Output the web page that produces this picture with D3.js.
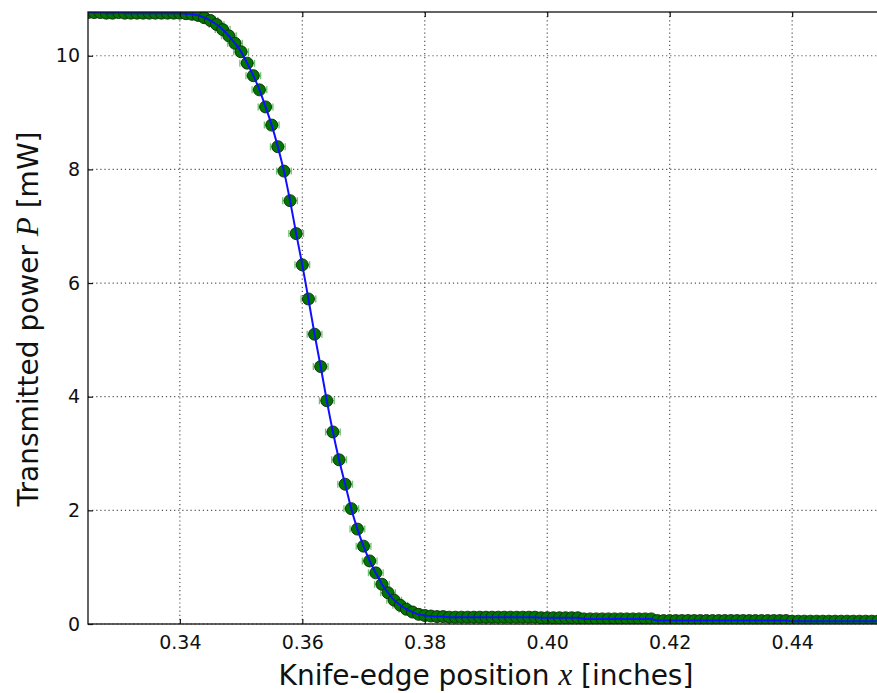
<!DOCTYPE html>
<html>
<head>
    <title>Knife-edge scan</title>
    <script src="https://d3js.org/d3.v7.min.js"></script>
    <style>
        body { margin: 0; background: #fff; }
        text { font-family: "DejaVu Sans", sans-serif; fill: #111; }
    </style>
</head>
<body>
<svg width="877" height="693"></svg>
<script>
    // knife-edge position [inches]
    const positions = [
        0.325, 0.326, 0.327, 0.328, 0.329, 0.330, 0.331, 0.332, 0.333, 0.334,
        0.335, 0.336, 0.337, 0.338, 0.339, 0.340, 0.341, 0.342, 0.343, 0.344,
        0.345, 0.346, 0.347, 0.348, 0.349, 0.350, 0.351, 0.352, 0.353, 0.354,
        0.355, 0.356, 0.357, 0.358, 0.359, 0.360, 0.361, 0.362, 0.363, 0.364,
        0.365, 0.366, 0.367, 0.368, 0.369, 0.370, 0.371, 0.372, 0.373, 0.374,
        0.375, 0.376, 0.377, 0.378, 0.379, 0.380, 0.381, 0.382, 0.383, 0.384,
        0.385, 0.386, 0.387, 0.388, 0.389, 0.390, 0.391, 0.392, 0.393, 0.394,
        0.395, 0.396, 0.397, 0.398, 0.399, 0.400, 0.401, 0.402, 0.403, 0.404,
        0.405, 0.406, 0.407, 0.408, 0.409, 0.410, 0.411, 0.412, 0.413, 0.414,
        0.415, 0.416, 0.417, 0.418, 0.419, 0.420, 0.421, 0.422, 0.423, 0.424,
        0.425, 0.426, 0.427, 0.428, 0.429, 0.430, 0.431, 0.432, 0.433, 0.434,
        0.435, 0.436, 0.437, 0.438, 0.439, 0.440, 0.441, 0.442, 0.443, 0.444,
        0.445, 0.446, 0.447, 0.448, 0.449, 0.450, 0.451, 0.452, 0.453, 0.454,
        0.455
    ];
    // transmitted power [mW]
    const power = [
        10.76, 10.76, 10.76, 10.75, 10.75, 10.76, 10.75, 10.75, 10.75, 10.75,
        10.75, 10.75, 10.75, 10.75, 10.75, 10.75, 10.74, 10.73, 10.71, 10.67,
        10.62, 10.55, 10.46, 10.35, 10.22, 10.07, 9.87, 9.65, 9.40, 9.10,
        8.78, 8.40, 7.97, 7.45, 6.87, 6.32, 5.72, 5.10, 4.53, 3.93,
        3.38, 2.89, 2.46, 2.03, 1.67, 1.37, 1.11, 0.90, 0.70, 0.55,
        0.42, 0.33, 0.26, 0.21, 0.17, 0.15, 0.14, 0.13, 0.13, 0.12,
        0.12, 0.12, 0.12, 0.12, 0.12, 0.12, 0.12, 0.12, 0.12, 0.12,
        0.12, 0.12, 0.12, 0.12, 0.11, 0.11, 0.11, 0.11, 0.11, 0.11,
        0.11, 0.09, 0.09, 0.09, 0.09, 0.09, 0.09, 0.09, 0.09, 0.09,
        0.09, 0.09, 0.09, 0.06, 0.06, 0.06, 0.06, 0.06, 0.06, 0.06,
        0.06, 0.06, 0.06, 0.06, 0.06, 0.06, 0.06, 0.06, 0.06, 0.06,
        0.06, 0.06, 0.06, 0.06, 0.06, 0.05, 0.05, 0.05, 0.05, 0.05,
        0.05, 0.05, 0.05, 0.05, 0.05, 0.05, 0.05, 0.05, 0.05, 0.05,
        0.05
    ];
    const xErr = 0.0012;
    const xTicks = [0.34, 0.36, 0.38, 0.40, 0.42, 0.44];
    const yTicks = [0, 2, 4, 6, 8, 10];
    const xDomain = [0.325, 0.455];
    const yDomain = [0, 10.77];

    const data = positions.map((p, i) => ({x: p, y: power[i]}));

    const mLeft = 88, mRight = 884, mTop = 12, mBottom = 624;
    const svg = d3.select("svg");

    const x = d3.scaleLinear().domain(xDomain).range([mLeft, mRight]);
    const y = d3.scaleLinear().domain(yDomain).range([mBottom, mTop]);

    svg.append("defs").append("clipPath").attr("id", "clip")
        .append("rect")
        .attr("x", mLeft).attr("y", mTop)
        .attr("width", mRight - mLeft).attr("height", mBottom - mTop);

    // dotted grid
    const grid = svg.append("g")
        .attr("stroke", "#555")
        .attr("stroke-width", 1.2)
        .attr("stroke-dasharray", "1.2,2.9");
    grid.selectAll(".gx").data(xTicks).enter().append("line")
        .attr("x1", d => x(d)).attr("x2", d => x(d))
        .attr("y1", mTop).attr("y2", mBottom);
    grid.selectAll(".gy").data(yTicks).enter().append("line")
        .attr("x1", mLeft).attr("x2", mRight)
        .attr("y1", d => y(d)).attr("y2", d => y(d));

    const plot = svg.append("g").attr("clip-path", "url(#clip)");

    // horizontal error bars
    const eb = plot.append("g").attr("stroke", "#6fc46f").attr("stroke-width", 1.3);
    eb.selectAll(".eb").data(data).enter().append("path")
        .attr("fill", "none")
        .attr("d", d => {
            const x0 = x(d.x - xErr), x1 = x(d.x + xErr), yy = y(d.y);
            return `M${x0},${yy}H${x1}M${x0},${yy - 3.5}V${yy + 3.5}M${x1},${yy - 3.5}V${yy + 3.5}`;
        });

    // markers
    plot.selectAll(".pt").data(data).enter().append("circle")
        .attr("cx", d => x(d.x))
        .attr("cy", d => y(d.y))
        .attr("r", 6)
        .attr("fill", "#007600")
        .attr("stroke", "#0a2a0a")
        .attr("stroke-width", 0.9);

    // line
    const line = d3.line().x(d => x(d.x)).y(d => y(d.y)).curve(d3.curveMonotoneX);
    plot.append("path")
        .datum(data)
        .attr("fill", "none")
        .attr("stroke", "#1010ff")
        .attr("stroke-width", 2)
        .attr("d", line);

    // frame
    svg.append("rect")
        .attr("x", mLeft).attr("y", mTop)
        .attr("width", mRight - mLeft).attr("height", mBottom - mTop)
        .attr("fill", "none").attr("stroke", "#111").attr("stroke-width", 1.3);

    // axes with inward ticks
    const xAxis = d3.axisBottom(x).tickValues(xTicks).tickFormat(d3.format(".2f"))
        .tickSizeInner(-5).tickSizeOuter(0).tickPadding(12);
    const xAxisTop = d3.axisTop(x).tickValues(xTicks).tickFormat("")
        .tickSizeInner(-5).tickSizeOuter(0);
    const yAxis = d3.axisLeft(y).tickValues(yTicks).tickFormat(d3.format("d"))
        .tickSizeInner(-5).tickSizeOuter(0).tickPadding(8);
    const yAxisRight = d3.axisRight(y).tickValues(yTicks).tickFormat("")
        .tickSizeInner(-5).tickSizeOuter(0);

    function style(g) {
        g.select(".domain").remove();
        g.selectAll(".tick line").attr("stroke", "#111").attr("stroke-width", 1.2);
        g.selectAll(".tick text").attr("font-size", "19px")
            .attr("font-family", "DejaVu Sans").attr("fill", "#222");
    }
    svg.append("g").attr("transform", `translate(0,${mBottom})`).call(xAxis).call(style);
    svg.append("g").attr("transform", `translate(0,${mTop})`).call(xAxisTop).call(style);
    svg.append("g").attr("transform", `translate(${mLeft},0)`).call(yAxis).call(style);
    svg.append("g").attr("transform", `translate(${mRight},0)`).call(yAxisRight).call(style);

    // axis labels
    const xl = svg.append("text")
        .attr("x", 486).attr("y", 685)
        .attr("text-anchor", "middle")
        .attr("font-size", "28px");
    xl.append("tspan").text("Knife-edge position ");
    xl.append("tspan").text("x").attr("font-family", "Liberation Serif").attr("font-style", "italic").attr("font-size", "31px");
    xl.append("tspan").text(" [inches]");

    const yl = svg.append("text")
        .attr("transform", "translate(38,319) rotate(-90)")
        .attr("text-anchor", "middle")
        .attr("font-size", "28px");
    yl.append("tspan").text("Transmitted power ");
    yl.append("tspan").text("P").attr("font-family", "Liberation Serif").attr("font-style", "italic").attr("font-size", "31px");
    yl.append("tspan").text(" [mW]");
</script>
</body>
</html>
